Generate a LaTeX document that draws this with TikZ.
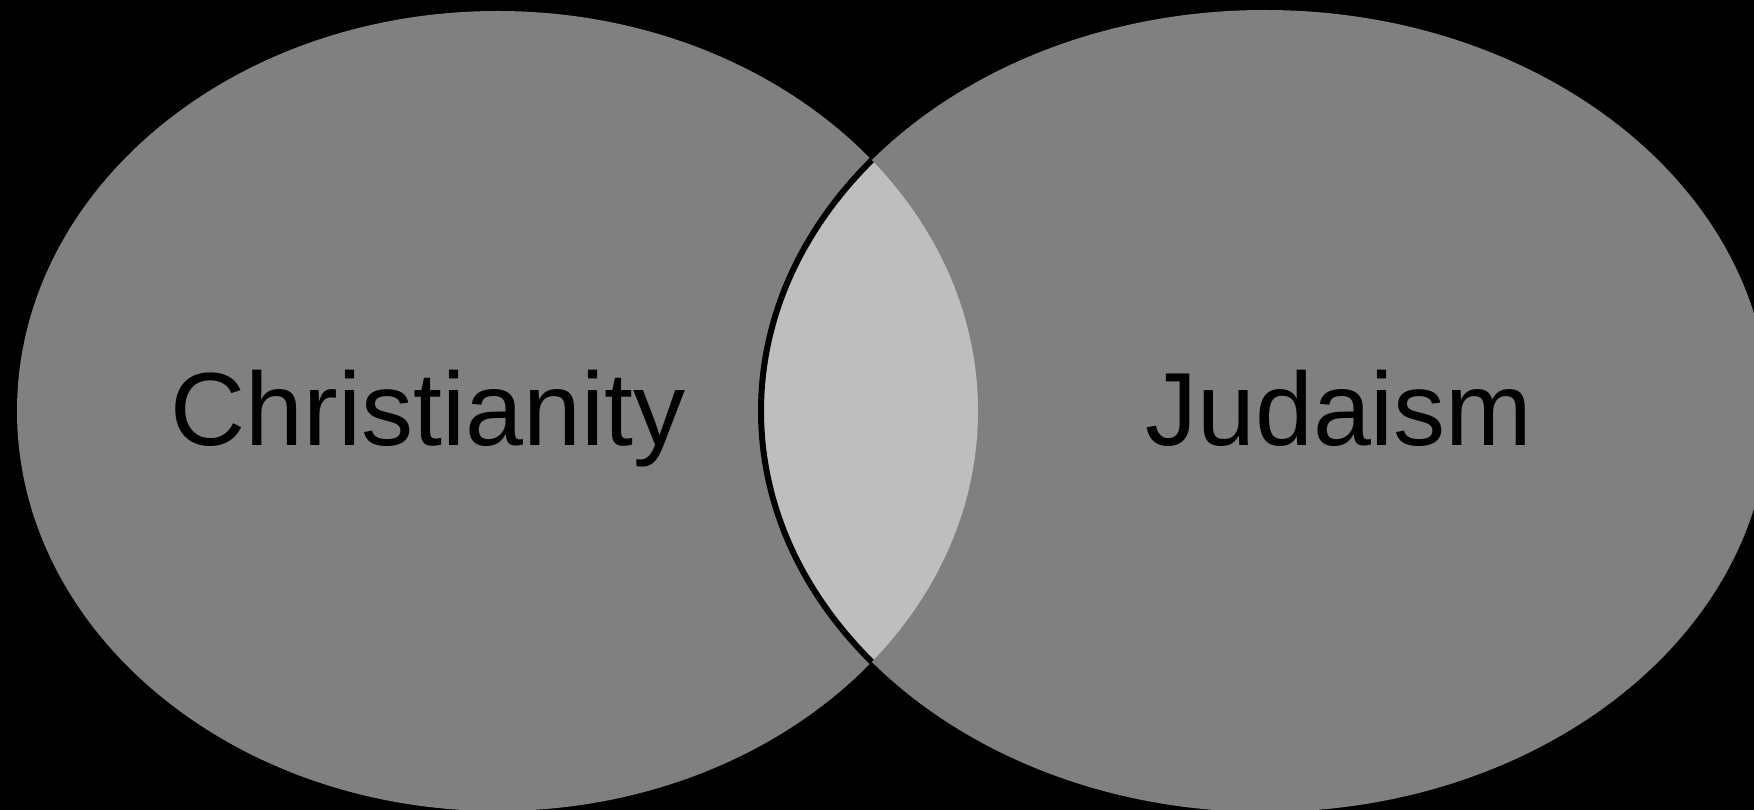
\documentclass[tikz,border=0pt]{standalone}
\usepackage{fontspec}
\setmainfont{Liberation Sans}
\definecolor{setgray}{RGB}{128,128,128}
\definecolor{lensgray}{RGB}{190,190,190}
\begin{document}
\begin{tikzpicture}[x=1pt,y=-1pt,
  setlabel/.style={font=\fontsize{104}{110}\selectfont, text=black, inner sep=0pt, anchor=base},
  outline/.style={draw=black, line width=6pt}]
\useasboundingbox (0,0) rectangle (1754,810);
\fill[black] (0,0) rectangle (1754,810);
\fill[setgray] (497.5,411) ellipse [x radius=480.5, y radius=400];
\fill[setgray] (1265,411) ellipse [x radius=504, y radius=401];
\begin{scope}
  \clip (497.5,411) ellipse [x radius=480.5, y radius=400];
  \fill[lensgray] (1265,411) ellipse [x radius=504, y radius=401];
  \draw[outline] (1265,411) ellipse [x radius=504, y radius=401];
\end{scope}
\node[setlabel] (christianity) at (428,445) {Christianity};
\node[setlabel] (judaism) at (1339,445) {Judaism};
\end{tikzpicture}
\end{document}
